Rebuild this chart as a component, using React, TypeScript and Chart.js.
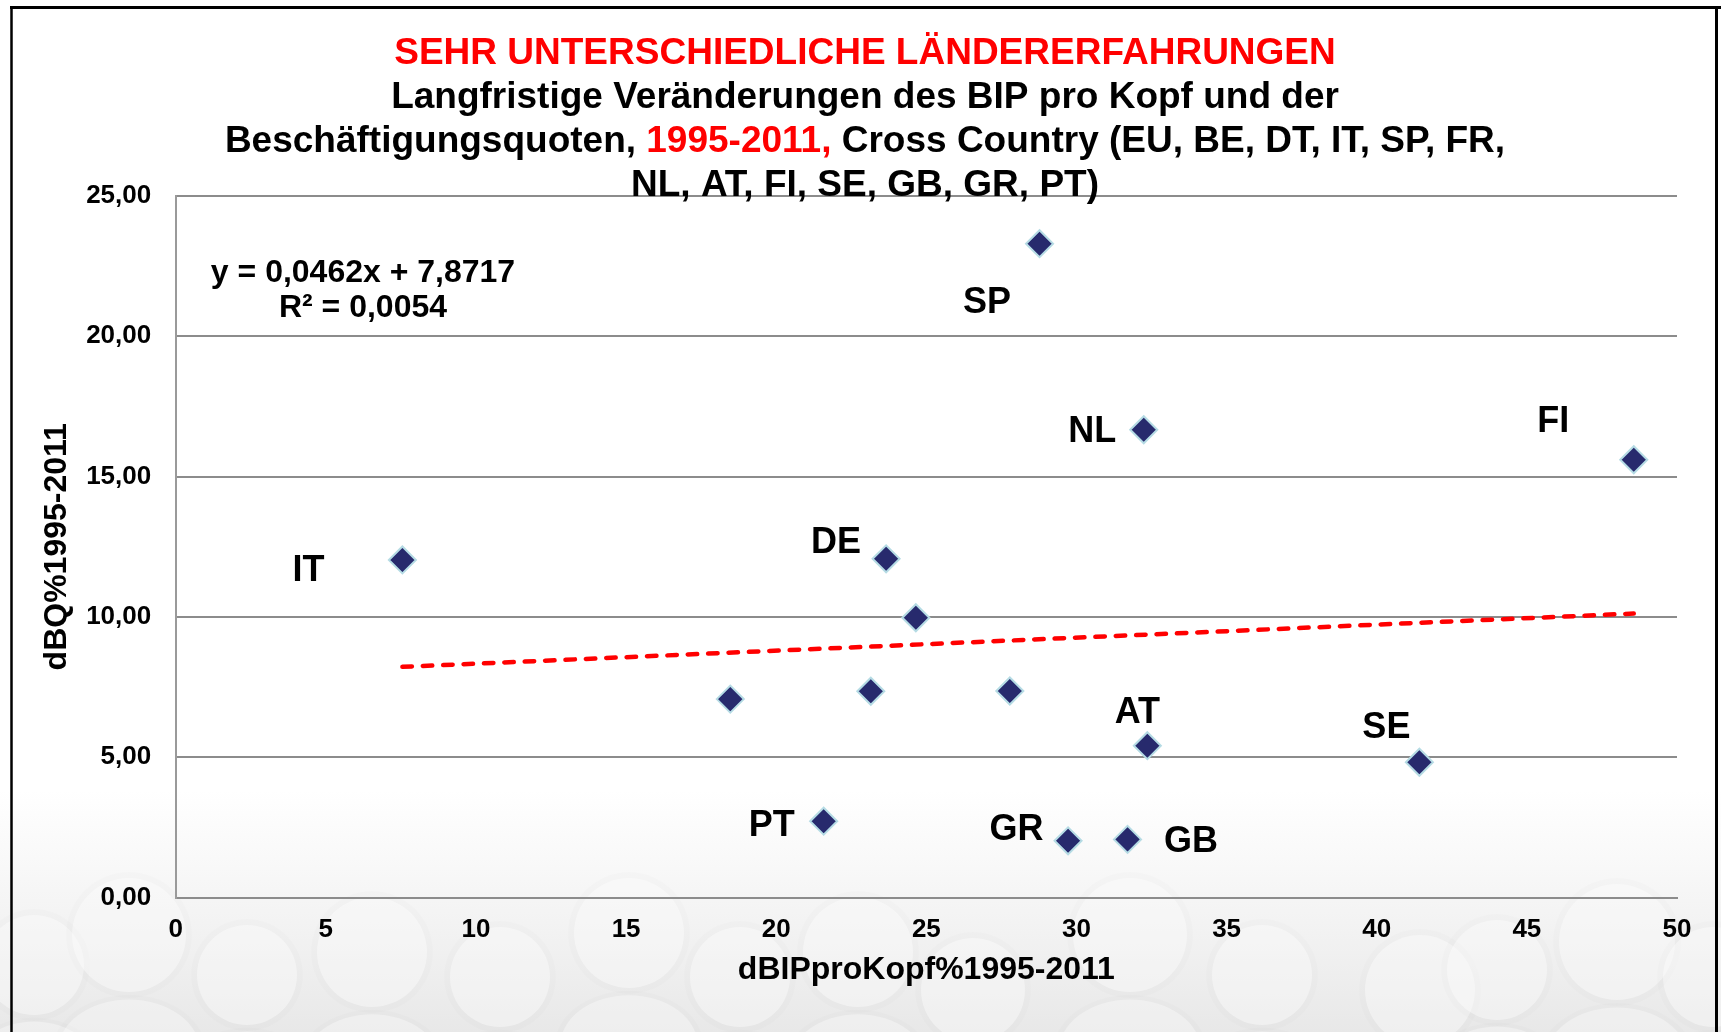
import React, { useEffect, useRef } from "react";
import { Chart, registerables } from "chart.js";

Chart.register(...registerables);

const FONT = "'Liberation Sans', Arial, Helvetica, sans-serif";

// ---------------- data ----------------
const countryLabels = ["IT", "SP", "NL", "FI", "DE", "", "", "", "", "AT", "SE", "PT", "GR", "GB"];
const gdpPerCapitaChange = [7.55, 28.77, 32.24, 48.56, 23.66, 24.65, 18.47, 23.15, 27.78, 32.36, 41.42, 21.58, 29.72, 31.7];
const employmentRateChange = [12.03, 23.3, 16.67, 15.6, 12.07, 9.97, 7.07, 7.35, 7.36, 5.41, 4.82, 2.72, 2.02, 2.07];

const trendX = [7.55, 48.56];
const trendY = [8.22, 10.12];

const xTickLabels = ["0", "5", "10", "15", "20", "25", "30", "35", "40", "45", "50"];
const yTickLabels = ["0,00", "5,00", "10,00", "15,00", "20,00", "25,00"];

const xAxisTitle = "dBIPproKopf%1995-2011";
const yAxisTitle = "dBQ%1995-2011";
const equationText = "y = 0,0462x + 7,8717";
const r2Text = "R² = 0,0054";

const titleLines = [
  [{ text: "SEHR UNTERSCHIEDLICHE LÄNDERERFAHRUNGEN", red: true }],
  [{ text: "Langfristige Veränderungen des BIP pro Kopf und der", red: false }],
  [
    { text: "Beschäftigungsquoten, ", red: false },
    { text: "1995-2011,", red: true },
    { text: " Cross Country (EU, BE, DT, IT, SP, FR,", red: false },
  ],
  [{ text: "NL, AT, FI, SE, GB, GR, PT)", red: false }],
];

// ---------------- styling / placement ----------------
const LABEL_OFFSETS: Record<string, [number, number]> = {
  IT: [-94, 11],
  SP: [-52.5, 59],
  NL: [-51.5, 2.5],
  FI: [-80.5, -38],
  DE: [-50, -15.5],
  AT: [-10, -33],
  SE: [-33, -34],
  PT: [-52, 5],
  GR: [-51.5, -10.5],
  GB: [63.5, 3],
};

const TITLE_CENTER_X = 865;
const TITLE_LINE_Y = [50.5, 94.5, 138.5, 182.5];
const TITLE_SIZE = 37;

const HEADS: [number, number, number][] = [
  [34, 965, 50], [129, 935, 57], [247, 975, 50], [372, 952, 55], [500, 977, 50],
  [629, 933, 55], [740, 977, 50], [858, 952, 55], [973, 990, 52], [1130, 935, 57],
  [1262, 975, 50], [1420, 990, 55], [1497, 970, 50], [1617, 942, 58], [1713, 977, 50],
];

const W = 1721;
const H = 1032;

const backgroundPlugin = {
  id: "bgDecor",
  beforeDraw(chart: any) {
    const ctx = chart.ctx as CanvasRenderingContext2D;
    ctx.save();
    ctx.fillStyle = "#ffffff";
    ctx.fillRect(0, 0, W, H);
    const g = ctx.createLinearGradient(0, 790, 0, H);
    g.addColorStop(0, "rgba(234,234,234,0)");
    g.addColorStop(1, "rgba(232,232,232,1)");
    ctx.fillStyle = g;
    ctx.fillRect(0, 790, W, H - 790);
    for (const [x, y, r] of HEADS) {
      // shoulders
      ctx.beginPath();
      ctx.ellipse(x, y + r * 2.05, r * 1.35, r * 1.0, 0, 0, Math.PI * 2);
      ctx.fillStyle = "rgba(0,0,0,0.012)";
      ctx.fill();
      ctx.beginPath();
      ctx.ellipse(x, y + r * 2.05, r * 1.25, r * 0.92, 0, 0, Math.PI * 2);
      ctx.fillStyle = "rgba(255,255,255,0.35)";
      ctx.fill();
      // head
      ctx.beginPath();
      ctx.arc(x, y, r + 6, 0, Math.PI * 2);
      ctx.fillStyle = "rgba(0,0,0,0.012)";
      ctx.fill();
      ctx.beginPath();
      ctx.arc(x, y, r, 0, Math.PI * 2);
      ctx.fillStyle = "rgba(255,255,255,0.4)";
      ctx.fill();
    }
    ctx.restore();
  },
};

const overlayPlugin = {
  id: "overlayText",
  afterDatasetsDraw(chart: any) {
    const ctx = chart.ctx as CanvasRenderingContext2D;
    const meta = chart.getDatasetMeta(1);
    ctx.save();
    ctx.fillStyle = "#000";
    ctx.font = `bold 36px ${FONT}`;
    ctx.textAlign = "center";
    ctx.textBaseline = "middle";
    meta.data.forEach((pt: any, i: number) => {
      const lab = countryLabels[i];
      if (!lab) return;
      const off = LABEL_OFFSETS[lab] || [0, 0];
      ctx.fillText(lab, pt.x + off[0], pt.y + off[1]);
    });
    // regression equation
    ctx.font = `bold 32px ${FONT}`;
    ctx.fillText(equationText, 363, 273.5);
    ctx.fillText(r2Text, 363, 308);
    ctx.restore();
  },
  afterDraw(chart: any) {
    const ctx = chart.ctx as CanvasRenderingContext2D;
    ctx.save();
    ctx.font = `bold ${TITLE_SIZE}px ${FONT}`;
    ctx.textAlign = "left";
    ctx.textBaseline = "alphabetic";
    titleLines.forEach((segs, li) => {
      const total = segs.reduce((s, seg) => s + ctx.measureText(seg.text).width, 0);
      let x = TITLE_CENTER_X - total / 2;
      const base = TITLE_LINE_Y[li] + TITLE_SIZE * 0.358;
      for (const seg of segs) {
        ctx.fillStyle = seg.red ? "#ff0000" : "#000000";
        ctx.fillText(seg.text, x, base);
        x += ctx.measureText(seg.text).width;
      }
    });
    // frame
    ctx.strokeStyle = "#000";
    ctx.lineWidth = 3;
    ctx.beginPath();
    ctx.moveTo(10, 7.5);
    ctx.lineTo(W, 7.5);
    ctx.stroke();
    ctx.lineWidth = 2.5;
    ctx.beginPath();
    ctx.moveTo(11.5, 6);
    ctx.lineTo(11.5, H);
    ctx.stroke();
    ctx.lineWidth = 3;
    ctx.beginPath();
    ctx.moveTo(1716.5, 6);
    ctx.lineTo(1716.5, H);
    ctx.stroke();
    ctx.restore();
  },
};

export default function App() {
  const canvasRef = useRef<HTMLCanvasElement | null>(null);

  useEffect(() => {
    const canvas = canvasRef.current;
    if (!canvas) return;
    const tickFont = { family: FONT, size: 26, weight: "bold" as const };
    const titleFont = { family: FONT, size: 32, weight: "bold" as const };
    const chart = new Chart(canvas, {
      type: "scatter",
      data: {
        datasets: [
          {
            type: "line",
            label: "Trend",
            data: trendX.map((x, i) => ({ x, y: trendY[i] })),
            borderColor: "#ff0000",
            borderWidth: 4.5,
            borderDash: [9.5, 10.9],
            borderCapStyle: "round",
            pointRadius: 0,
            fill: false,
            order: 2,
          } as any,
          {
            type: "scatter",
            label: "Länder",
            data: gdpPerCapitaChange.map((x, i) => ({ x, y: employmentRateChange[i] })),
            pointStyle: "rectRot",
            pointRadius: 13.5,
            pointHoverRadius: 13.5,
            backgroundColor: "#272a6d",
            borderColor: "#b5dbe4",
            borderWidth: 2,
            order: 1,
          } as any,
        ],
      },
      options: {
        responsive: false,
        animation: false,
        events: [],
        layout: { padding: { top: 196, left: 20, right: 44, bottom: 0 } },
        plugins: {
          legend: { display: false },
          tooltip: { enabled: false },
          title: { display: false },
        },
        scales: {
          x: {
            type: "linear",
            position: "bottom",
            min: 0,
            max: 50,
            ticks: {
              stepSize: 5,
              padding: 16.5,
              color: "#000",
              font: tickFont,
              maxRotation: 0,
              autoSkip: false,
              callback: (_v: any, i: number) => xTickLabels[i],
            },
            grid: { display: false, drawTicks: false },
            border: { display: true, color: "#8c8c8c", width: 2 },
            title: {
              display: true,
              text: xAxisTitle,
              color: "#000",
              font: titleFont,
              padding: { top: 0, bottom: 43 },
            },
            afterFit: (s: any) => {
              s.height = H - 897.5;
            },
          },
          y: {
            type: "linear",
            min: 0,
            max: 25,
            ticks: {
              stepSize: 5,
              padding: 24.5,
              color: "#000",
              font: tickFont,
              callback: (_v: any, i: number) => yTickLabels[i],
            },
            grid: { color: "#8c8c8c", lineWidth: 2, drawTicks: false },
            border: { display: true, color: "#9a9a9a", width: 2 },
            title: {
              display: true,
              text: yAxisTitle,
              color: "#000",
              font: titleFont,
              padding: { top: 18, bottom: 0 },
            },
            afterFit: (s: any) => {
              s.width = 155.7;
            },
          },
        },
      } as any,
      plugins: [backgroundPlugin, overlayPlugin],
    });
    return () => chart.destroy();
  }, []);

  return (
    <div style={{ position: "fixed", left: 0, top: 0, width: W, height: H, background: "#fff" }}>
      <canvas ref={canvasRef} width={W} height={H} style={{ display: "block", width: W, height: H }} />
    </div>
  );
}
